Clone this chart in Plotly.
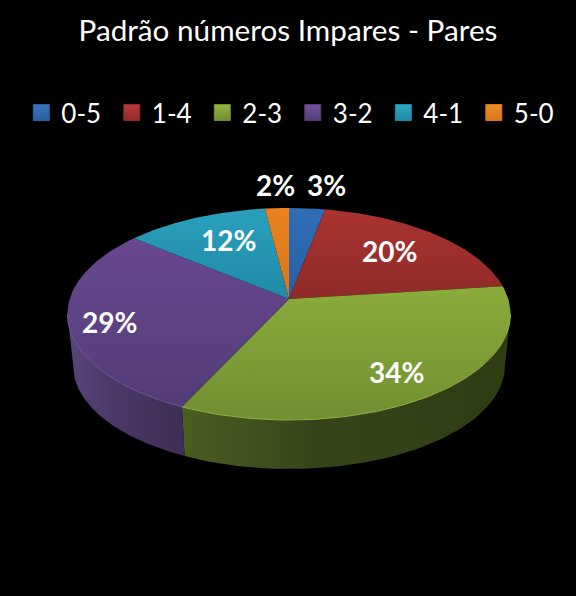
import numpy as np
import plotly.graph_objects as go

categories = ['0-5', '1-4', '2-3', '3-2', '4-1', '5-0']
shares = [3, 20, 34, 29, 12, 2]

title_text = 'Padrão números Impares - Pares'

# gradient ends for each slice: top face (front, back), then the rim (left, middle, right)
face_front = ['#28609f', '#8f2a28', '#6f8f30', '#543c76', '#1f8aa6', '#d9761a']
face_back = ['#2f6eb8', '#aa3330', '#8aad3c', '#684890', '#2aa0bc', '#ea821f']
rim_left = ['#1d3f69', '#5e1c1a', '#4b5e21', '#5a457c', '#14586b', '#8a4c10']
rim_mid = ['#1d3f69', '#5e1c1a', '#364519', '#4b3868', '#14586b', '#8a4c10']
rim_right = ['#1d3f69', '#5e1c1a', '#2e3c14', '#3e2d54', '#14586b', '#8a4c10']
rim_edge = ['#3a75bd', '#b93c39', '#8fb045', '#735a9a', '#2fa8c4', '#ee8a2a']
legend_colors = ['#3a75bd', '#b93c39', '#93b644', '#7254a0', '#2fa8c4', '#ee8a2a']

label_radius = [1.25, 0.68, 0.77, 0.82, 0.65, 1.25]
label_shift_x = [16, -1, -1, 1, 3, 1]
label_shift_y = [-4, -3, 2, 4, -4, -4]

# tilted disc, perspective fitted to the picture
cx, cy = 289, 299
ax, by, persp = 219.3, 103.9, 0.1415
depth, shrink = 52, 0.975


def project(angle, r=1.0, scale=1.0, drop=0):
    px_ = r * np.sin(angle)
    py_ = r * np.cos(angle)
    w = 1 + persp * py_
    return cx + scale * ax * px_ / w, cy + drop - scale * by * py_ / w


def polygon_trace(x, y, gradient_type, colorscale):
    return go.Scatter(
        x=x, y=y, mode='lines', fill='toself', line=dict(width=0),
        fillgradient=dict(type=gradient_type, colorscale=colorscale),
        hoverinfo='skip', showlegend=False,
    )


edges = np.cumsum([0] + shares) / sum(shares) * 2 * np.pi
fig = go.Figure()

# only the front of the rim shows, between the widest points of the disc
front_start = np.arccos(-persp)
front_end = 2 * np.pi - front_start
rim_arcs = []
for i in range(len(shares)):
    start, end = max(edges[i], front_start), min(edges[i + 1], front_end)
    if end <= start:
        continue
    t = np.linspace(start, end, 90)
    xt, yt = project(t)
    xb, yb = project(t[::-1], scale=shrink, drop=depth)
    scale = [[0, rim_left[i]], [0.4, rim_mid[i]], [1, rim_right[i]]]
    fig.add_trace(polygon_trace(np.r_[xt, xb, xt[0]], np.r_[yt, yb, yt[0]], 'horizontal', scale))
    rim_arcs.append((i, xt, yt))

for i in range(len(shares)):
    t = np.linspace(edges[i], edges[i + 1], 90)
    xt, yt = project(t)
    scale = [[0, face_front[i]], [1, face_back[i]]]
    fig.add_trace(polygon_trace(np.r_[cx, xt, cx], np.r_[cy, yt, cy], 'vertical', scale))

# thin light edge where the top meets the rim
for i, xt, yt in rim_arcs:
    fig.add_trace(go.Scatter(
        x=xt, y=yt, mode='lines', line=dict(color=rim_edge[i], width=1),
        hoverinfo='skip', showlegend=False,
    ))

# legend swatches
for i, name in enumerate(categories):
    fig.add_trace(go.Scatter(
        x=[None], y=[None], mode='markers', name=name,
        marker=dict(symbol='square', size=16, color=legend_colors[i],
                    gradient=dict(type='vertical', color=face_front[i]),
                    line=dict(color=face_front[i], width=1)),
    ))

for i, share in enumerate(shares):
    mid = (edges[i] + edges[i + 1]) / 2
    lx, ly = project(mid, r=label_radius[i])
    fig.add_annotation(
        x=lx, y=ly, text=f'{share}%', showarrow=False,
        xshift=label_shift_x[i], yshift=-label_shift_y[i],
        font=dict(family='Lato', size=28, color='white', weight='bold'),
    )

fig.update_layout(
    width=576, height=596,
    margin=dict(l=0, r=0, t=0, b=0),
    paper_bgcolor='black', plot_bgcolor='black',
    title=dict(text=title_text, x=0.5, xanchor='center', y=0.948, yanchor='middle',
               font=dict(family='Lato', size=29.7, color='white')),
    legend=dict(orientation='h', x=0.037, xanchor='left', y=0.811, yanchor='middle',
                entrywidth=45.5, entrywidthmode='pixels', itemsizing='trace', itemwidth=30,
                font=dict(family='Lato', size=26, color='white'), bgcolor='rgba(0,0,0,0)'),
    xaxis=dict(range=[0, 576], visible=False, fixedrange=True),
    yaxis=dict(range=[596, 0], visible=False, fixedrange=True),
)

fig.write_html('out.html', config=dict(displayModeBar=False),
               post_script="document.body.style.margin='0';document.body.style.background='black';")
